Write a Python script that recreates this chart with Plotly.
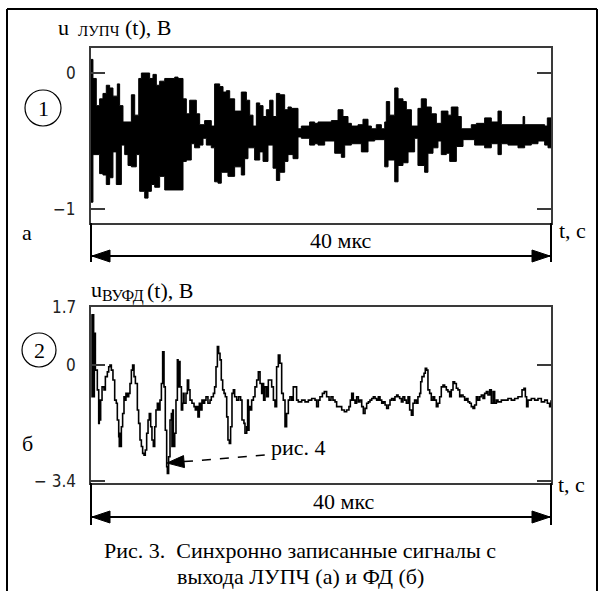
import plotly.graph_objects as go

# ---------------- data ----------------
# panel (а): envelope of the ЛУПЧ output signal, time in мкс, voltage in В
top_up_t = [0, 0.17, 0.46, 0.75, 1.04, 1.33, 1.62, 1.91, 2.29, 2.49, 2.78, 3.51, 3.80, 4.15, 4.38, 5.10, 5.39, 5.68, 5.97, 6.41,
            7.28, 7.57, 8.00, 8.29, 8.58, 9.16, 9.45, 9.88, 10.46, 10.75, 11.19, 11.48, 11.77, 12.06, 12.49, 13.07, 13.51, 13.80, 14.09, 14.38,
            14.67, 14.96, 15.25, 15.54, 15.83, 16.12, 16.41, 16.84, 17.13, 17.42, 18.00, 18.29, 19.01, 19.45, 19.74, 20.90, 21.48, 21.91, 22.35, 22.64,
            23.22, 23.65, 24.09, 24.38, 24.81, 25.25, 25.54, 25.68, 25.97, 26.41, 26.70, 27.13, 27.42, 27.86, 28.43, 28.72, 29.16, 29.59, 30.03, 30.46,
            31.04, 31.33, 31.91, 32.20, 33.07, 33.51, 34.23, 34.81, 35.39, 35.68, 37.13, 37.57, 37.71, 39.45, 39.68, 40.0]
top_up_v = [0.10, -0.04, -0.24, -0.19, -0.15, -0.09, -0.11, -0.17, -0.08, -0.24, -0.36, -0.16, -0.31, -0.04, 0.00, -0.04, -0.01, -0.09, -0.06, -0.04,
            -0.03, -0.04, -0.19, -0.30, -0.20, -0.30, -0.38, -0.35, -0.39, -0.08, -0.10, -0.14, -0.13, -0.19, -0.28, -0.14, -0.20, -0.31, -0.39, -0.22,
            -0.24, -0.32, -0.27, -0.20, -0.32, -0.15, -0.16, -0.27, -0.25, -0.26, -0.41, -0.39, -0.36, -0.37, -0.36, -0.35, -0.27, -0.32, -0.37, -0.39,
            -0.38, -0.34, -0.39, -0.41, -0.38, -0.41, -0.36, -0.21, -0.31, -0.11, -0.19, -0.21, -0.27, -0.39, -0.26, -0.19, -0.25, -0.30, -0.37, -0.28,
            -0.31, -0.25, -0.32, -0.41, -0.38, -0.37, -0.33, -0.36, -0.28, -0.38, -0.38, -0.32, -0.38, -0.39, -0.33, -0.33]

top_lo_t = [0, 0.17, 0.75, 1.04, 1.33, 1.62, 1.91, 2.20, 2.64, 2.93, 3.22, 3.51, 3.94, 4.23, 4.67, 4.96, 5.25, 5.54, 5.97, 6.41,
            8.00, 8.29, 8.72, 9.01, 9.45, 9.74, 10.03, 10.46, 10.75, 11.04, 11.33, 11.91, 12.49, 13.07, 13.36, 13.65, 14.23, 14.67, 14.96, 15.39,
            15.83, 16.12, 16.41, 16.84, 17.13, 17.57, 18.00, 18.29, 19.01, 19.45, 19.74, 20.32, 21.19, 21.77, 22.06, 22.64, 23.51, 24.09, 24.67, 25.54,
            25.83, 26.41, 26.70, 27.13, 27.57, 28.14, 28.43, 29.01, 29.30, 29.74, 30.17, 30.46, 30.90, 31.19, 31.77, 32.35, 33.36, 34.23, 34.81, 35.39,
            35.68, 36.26, 37.13, 37.71, 38.29, 38.87, 39.45, 39.74, 40.0]
top_lo_v = [-0.95, -0.60, -0.74, -0.75, -0.82, -0.77, -0.58, -0.82, -0.53, -0.60, -0.68, -0.69, -0.60, -0.87, -0.92, -0.87, -0.82, -0.84, -0.76, -0.86,
            -0.65, -0.64, -0.52, -0.55, -0.53, -0.48, -0.53, -0.55, -0.80, -0.81, -0.73, -0.76, -0.69, -0.75, -0.63, -0.55, -0.64, -0.58, -0.65, -0.53,
            -0.70, -0.79, -0.73, -0.65, -0.60, -0.63, -0.47, -0.48, -0.53, -0.52, -0.53, -0.50, -0.59, -0.62, -0.53, -0.52, -0.58, -0.50, -0.49, -0.69,
            -0.64, -0.80, -0.68, -0.66, -0.58, -0.48, -0.68, -0.73, -0.59, -0.55, -0.50, -0.60, -0.59, -0.65, -0.54, -0.49, -0.53, -0.55, -0.52, -0.60,
            -0.52, -0.53, -0.55, -0.53, -0.52, -0.50, -0.53, -0.55, -0.55]

# panel (б): ВУФД output signal
bot_t = [0.03, 0.09, 0.14, 0.23, 0.29, 0.38, 0.55, 0.67, 0.72, 0.78, 0.84, 0.96, 1.13, 1.25, 1.42, 1.54, 1.65, 1.77, 1.91, 2.06,
         2.20, 2.29, 2.41, 2.46, 2.52, 2.58, 2.64, 2.75, 2.87, 2.99, 3.04, 3.16, 3.28, 3.39, 3.51, 3.62, 3.74, 3.86, 4.03, 4.14,
         4.26, 4.38, 4.49, 4.61, 4.72, 4.84, 4.96, 5.07, 5.19, 5.30, 5.42, 5.54, 5.65, 5.77, 5.88, 6.00, 6.12, 6.23, 6.35, 6.46,
         6.58, 6.64, 6.75, 6.87, 6.99, 7.04, 7.10, 7.16, 7.28, 7.39, 7.51, 7.57, 7.62, 7.74, 7.86, 7.97, 8.03, 8.09, 8.26, 8.38,
         8.49, 8.61, 8.78, 8.96, 9.07, 9.19, 9.30, 9.42, 9.54, 9.65, 9.77, 9.88, 10.00, 10.17, 10.35, 10.46, 10.64, 10.75, 10.87, 10.99,
         11.10, 11.22, 11.33, 11.45, 11.57, 11.68, 11.80, 11.91, 12.03, 12.14, 12.26, 12.38, 12.49, 12.67, 12.84, 13.01, 13.13, 13.30,
         13.39, 13.54, 13.62, 13.68, 13.74, 13.83, 13.97, 14.12, 14.26, 14.41, 14.55, 14.70, 14.84, 14.93, 15.01, 15.13, 15.28, 15.42, 15.57, 15.71,
         15.86, 16.00, 16.14, 16.29, 16.43, 16.58, 16.72, 16.87, 17.01, 17.16, 17.30, 17.45, 17.59, 17.74, 17.88, 18.03, 18.32, 18.61, 18.90, 19.19,
         19.48, 19.62, 19.77, 19.91, 20.12, 20.29, 20.49, 20.70, 20.87, 21.04, 21.22, 21.36, 21.57, 21.80, 22.03, 22.23, 22.43, 22.55, 22.67, 22.81,
         22.96, 23.10, 23.25, 23.39, 23.54, 23.68, 23.83, 23.97, 24.12, 24.26, 24.41, 24.55, 24.70, 24.84, 24.99, 25.13, 25.28, 25.42, 25.57, 25.71,
         25.86, 26.00, 26.14, 26.29, 26.43, 26.58,
         26.70, 26.84, 26.99, 27.13, 27.28, 27.42, 27.57, 27.71, 27.86, 28.00, 28.14, 28.29, 28.43, 28.58, 28.67, 28.78, 28.96, 29.07, 29.19, 29.30,
         29.45, 29.59, 29.74, 29.88, 30.03, 30.17, 30.32, 30.46, 30.61, 30.75, 30.90, 31.04, 31.19, 31.33, 31.48, 31.62, 31.77, 31.91, 32.06, 32.20,
         32.35, 32.49, 32.64, 32.78, 32.93, 33.07, 33.22, 33.36, 33.51, 33.65, 33.80, 33.94, 34.09, 34.23, 34.38, 34.52, 34.67, 34.81, 34.96, 35.10,
         35.25, 35.39, 35.68, 35.97, 36.26, 36.55, 36.84, 37.13, 37.28, 37.48, 37.65, 37.77, 37.88, 38.00, 38.14, 38.29, 38.58, 38.87, 39.16, 39.45,
         39.68, 39.88, 40.0]
bot_v = [1.47, -0.93, 1.47, -0.93, 0.93, -0.15, -0.73, -1.71, -1.03, -1.61, -1.03, -0.64, -0.73, -0.34, -0.20, -0.05, 0.00, -0.15, -0.44, -1.03,
         -1.12, -1.61, -2.10, -2.39, -2.00, -2.39, -1.81, -1.42, -0.93, -1.03, -0.83, -0.93, -0.83, -0.54, -0.15, 0.00, -0.34, -0.54, -1.32, -1.71,
         -2.20, -2.39, -2.59, -2.64, -2.49, -2.00, -1.61, -1.42, -1.81, -2.20, -2.39, -1.81, -1.32, -1.12, -1.32, -1.03, -0.54, 0.39, -0.64, -1.91,
         -2.98, -3.18, -2.69, -1.61, -1.42, -2.39, -1.32, -2.39, -2.00, -1.03, 0.15, -0.64, 0.10, -0.64, -1.32, -1.12, -0.83, -1.12, -0.83, -0.44,
         -0.73, -1.03, -1.12, -1.22, -1.32, -1.22, -1.52, -1.12, -1.32, -1.03, -1.12, -1.03, -0.93, -1.12, -1.03, -0.93, -0.83, -0.64, -0.05, 0.54,
         0.34, 0.15, -0.44, -0.73, -0.83, -0.93, -1.52, -2.20, -2.30, -1.81, -0.83, -0.73, -0.93, -1.03, -0.93, -1.03, -1.61, -1.71,
         -2.00, -1.81, -1.03, -1.91, -1.22, -1.32, -1.03, -0.93, -0.64, -0.44, -0.20, -0.54, -0.83, -0.54, -1.03, -0.64, -0.93, -0.44, -0.44, -0.64,
         -1.03, -1.22, -0.05, 0.29, 0.05, -0.83, -1.03, -1.81, -1.42, -1.03, -0.93, -1.03, -0.64, -0.64, -1.03, -1.08, -1.03, -1.08, -1.03, -0.98,
         -1.03, -1.22, -1.03, -0.93, -0.83, -0.78, -0.93, -1.03, -0.93, -1.03, -1.08, -1.22, -1.22, -1.32, -1.37, -1.32, -1.22, -1.03, -0.83, -1.03,
         -1.12, -0.93, -1.08, -1.03, -1.22, -1.42, -1.27, -1.12, -1.08, -1.03, -0.98, -0.93, -0.98, -1.03, -0.93, -1.03, -1.12, -1.08, -1.17, -1.27,
         -1.17, -1.03, -0.98, -1.03, -0.93, -0.88,
         -0.93, -0.98, -1.08, -0.93, -1.03, -1.12, -0.93, -1.32, -1.47, -1.12, -1.03, -1.12, -0.93, -0.83, -0.49, -0.34, -0.24, -0.10, -0.15, -0.73,
         -0.83, -1.03, -0.93, -1.03, -1.22, -1.12, -0.93, -0.64, -0.59, -0.64, -0.73, -0.78, -0.93, -0.73, -0.49, -0.54, -0.68, -0.73, -0.93, -0.88,
         -0.93, -1.03, -0.98, -1.08, -1.12, -1.22, -1.27, -1.17, -0.93, -1.03, -0.93, -0.88, -0.98, -0.83, -0.78, -0.88, -0.73, -1.12, -0.78, -1.12,
         -1.03, -1.08, -1.03, -1.03, -0.98, -1.03, -0.98, -0.93, -0.93, -0.73, -0.68, -0.93, -1.22, -1.03, -1.03, -0.98, -1.03, -0.98, -1.08, -1.03,
         -1.12, -1.22, -1.03]

top_tick_vals = [0, -1]
top_tick_text = ["0", "\u22121"]
bot_tick_vals = [1.7, 0, -3.4]
bot_tick_text = ["1.7", "0", "\u2212 3.4"]

assert len(top_up_t) == len(top_up_v)
assert len(top_lo_t) == len(top_lo_v)
assert len(bot_t) == len(bot_v), (len(bot_t), len(bot_v))

# ---------------- layout helpers ----------------
W, H = 600, 592
def X(px):
    return px / W
def Y(py):
    return 1 - py / H

SERIF = "Liberation Serif"
NARROW = "DejaVu Sans Condensed"
AX = "#3a3a3a"

fig = go.Figure()
fig.add_trace(go.Scatter(x=top_lo_t, y=top_lo_v, mode="lines", line=dict(color="black", width=1, shape="hv"),
                         xaxis="x", yaxis="y", showlegend=False, hoverinfo="skip"))
fig.add_trace(go.Scatter(x=top_up_t, y=top_up_v, mode="lines", line=dict(color="black", width=1, shape="hv"),
                         fill="tonexty", fillcolor="black", xaxis="x", yaxis="y", showlegend=False, hoverinfo="skip"))
fig.add_trace(go.Scatter(x=bot_t, y=bot_v, mode="lines", line=dict(color="black", width=1.6, shape="hv"),
                         xaxis="x2", yaxis="y2", showlegend=False, hoverinfo="skip"))

xdom = [X(91), X(551)]
common_x = dict(range=[0, 40], showgrid=False, zeroline=False, showticklabels=False, ticks="",
                showline=True, mirror=True, linecolor=AX, linewidth=2)
common_y = dict(showgrid=False, zeroline=False, ticks="inside", ticklen=14, tickwidth=2, tickcolor=AX,
                showline=True, mirror="ticks", linecolor=AX, linewidth=2, showticklabels=False)

fig.update_layout(
    width=W, height=H, margin=dict(l=0, r=0, t=0, b=0),
    paper_bgcolor="white", plot_bgcolor="white", showlegend=False,
    xaxis=dict(domain=xdom, anchor="y", **common_x),
    yaxis=dict(domain=[Y(223), Y(48)], range=[-1.103, 0.184], anchor="x", tickvals=top_tick_vals, **common_y),
    xaxis2=dict(domain=xdom, anchor="y2", **common_x),
    yaxis2=dict(domain=[Y(483), Y(307)], range=[-3.458, 1.7], anchor="x2", tickvals=bot_tick_vals, **common_y),
)

# tick labels, placed at the axis values left of each panel
for yref, vals, texts in [("y", top_tick_vals, top_tick_text), ("y2", bot_tick_vals, bot_tick_text)]:
    for v, s in zip(vals, texts):
        fig.add_annotation(text=s, xref="paper", yref=yref, x=X(78), y=v, xanchor="right", yanchor="middle",
                           showarrow=False, font=dict(family=NARROW, size=17, color="#222"))

shapes = []

def seg(p0, p1, w=2, dash=None):
    line = dict(color="black", width=w)
    if dash:
        line["dash"] = dash
    shapes.append(dict(type="line", xref="paper", yref="paper", x0=X(p0[0]), y0=Y(p0[1]), x1=X(p1[0]), y1=Y(p1[1]),
                       line=line))

def tri(p1, p2, p3):
    path = "M {} {} L {} {} L {} {} Z".format(X(p1[0]), Y(p1[1]), X(p2[0]), Y(p2[1]), X(p3[0]), Y(p3[1]))
    shapes.append(dict(type="path", xref="paper", yref="paper", path=path, fillcolor="black",
                       line=dict(color="black", width=1)))

def dim_line(py):
    seg((92, py), (550, py))
    tri((92, py), (110, py - 6), (110, py + 6))
    tri((550, py), (532, py - 6), (532, py + 6))

# outer frame (left, top, right; open at the bottom edge of the picture)
seg((7, 591), (7, 9))
seg((7, 9), (597, 9))
seg((597, 9), (597, 591))

# extension lines below boxes
seg((91, 223), (91, 262)); seg((551, 223), (551, 262))
seg((91, 483), (91, 525)); seg((551, 483), (551, 525))
dim_line(256)
dim_line(517)

# circles
for cx, cy, r in [(43, 108, 18), (39, 350, 17)]:
    shapes.append(dict(type="circle", xref="paper", yref="paper", x0=X(cx - r), x1=X(cx + r), y0=Y(cy + r), y1=Y(cy - r),
                       line=dict(color="black", width=1.2)))

# dashed pointer to the minimum ("рис. 4")
seg((184, 461.6), (266, 455), w=1.5, dash="dash")
tri((167, 463), (184.5, 467.6), (183.5, 455.6))

fig.update_layout(shapes=shapes)

def txt(s, px, py, size=22, anchor="center", family=SERIF):
    fig.add_annotation(text=s, xref="paper", yref="paper", x=X(px), y=Y(py), xanchor=anchor, yanchor="middle",
                       showarrow=False, font=dict(family=family, size=size, color="black"))

# panel titles: u, subscript, (t), В
txt("u", 56, 27, anchor="left")
txt("ЛУПЧ", 76, 31, size=15, anchor="left")
txt("(t), В", 123, 28, anchor="left")
txt("u", 89, 289, anchor="left")
txt("ВУФД", 100, 296, size=16, anchor="left")
txt("(t), В", 145, 290, anchor="left")

txt("1", 43, 108)
txt("а", 27, 232)
txt("t, с", 557, 231, anchor="left")
txt("40 мкс", 341, 241)
txt("2", 39, 350)
txt("б", 27, 443)
txt("рис. 4", 269, 447, anchor="left")
txt("t, с", 556, 484, anchor="left")
txt("40 мкс", 344, 501)
txt("Рис. 3.  Синхронно записанные сигналы с", 300, 550, size=22)
txt("выхода ЛУПЧ (а) и ФД (б)", 300, 576, size=22)

fig.write_html("out.html")
